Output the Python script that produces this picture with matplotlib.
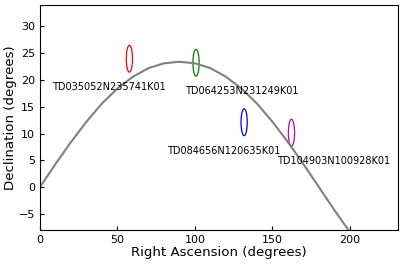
import matplotlib
matplotlib.use('Agg')
import matplotlib.pyplot as plt
from matplotlib.patches import Ellipse

# ecliptic
ecl_ra = [0, 10, 20, 30, 40, 50, 60, 70, 80, 90, 100, 110, 120, 130, 140,
          150, 160, 170, 180, 190, 200]
ecl_dec = [0, 4.3, 8.4, 12.2, 15.6, 18.4, 20.6, 22.2, 23.1, 23.4, 23.1, 22.2,
           20.6, 18.4, 15.6, 12.2, 8.4, 4.3, 0, -4.3, -8.4]

names = ["TD035052N235741K01", "TD064253N231249K01",
         "TD084656N120635K01", "TD104903N100928K01"]
ra = [57.72, 100.72, 131.73, 162.26]
dec = [23.96, 23.21, 12.11, 10.16]
colors = ['r', 'g', 'b', 'm']

fig, ax = plt.subplots(figsize=(4.07, 2.71), dpi=100)
fig.subplots_adjust(left=0.098, right=0.978, top=0.982, bottom=0.151)

ax.plot(ecl_ra, ecl_dec, color='gray', lw=1.5)

# label offsets alternate
dx = [-50, -7, -50, -9]
for i in range(len(names)):
    e = Ellipse((ra[i], dec[i]), width=4, height=5, fill=False,
                edgecolor=colors[i], lw=0.9)
    ax.add_patch(e)
    ax.text(ra[i] + dx[i], dec[i] - 5.3, names[i], fontsize=7,
            ha='left', va='center')

ax.set_xlim(0, 231)
ax.set_ylim(-8, 34)
ax.set_xlabel('Right Ascension (degrees)', fontsize=9.6, labelpad=1)
ax.set_ylabel('Declination (degrees)', fontsize=9.6, labelpad=1)
ax.tick_params(direction='in', labelsize=8, length=3)

fig.savefig('out.png', dpi=100)
